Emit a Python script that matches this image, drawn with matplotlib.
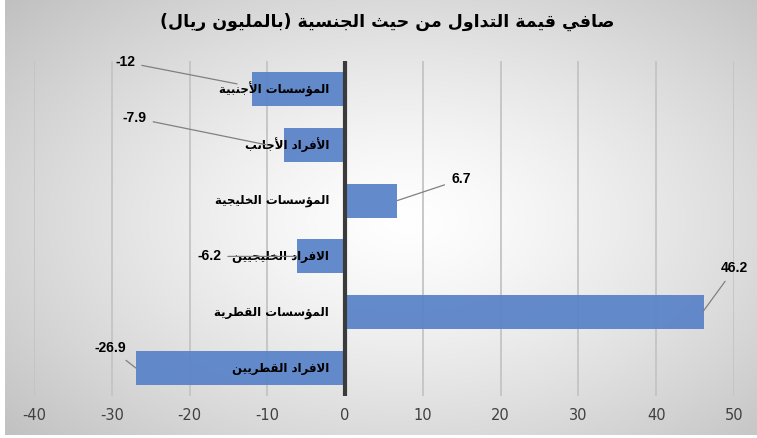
import numpy as np
import matplotlib
matplotlib.use('Agg')
import matplotlib.pyplot as plt

plt.rcParams['axes.unicode_minus'] = False

# ---- data ----
title = 'صافي قيمة التداول من حيث الجنسية (بالمليون ريال)'
categories = ['المؤسسات الأجنبية', 'الأفراد الأجانب', 'المؤسسات الخليجية',
              'الافراد الخليجيين', 'المؤسسات القطرية', 'الافراد القطريين']
values = [-12, -7.9, 6.7, -6.2, 46.2, -26.9]
value_labels = ['-12', '-7.9', '6.7', '-6.2', '46.2', '-26.9']
x_ticks = [-40, -30, -20, -10, 0, 10, 20, 30, 40, 50]

# label placement (offsets from the bar end, data units)
text_off = [(-16.3, -0.48), (-19.2, -0.48), (8.2, -0.38), (-11.3, 0.0), (3.9, -0.79), (-3.3, -0.36)]
line_off = [(-1.9, -0.09), (-2.25, 0.0), (0, 0), (0, 0), (-0.25, 0), (0, 0)]

# ---- minimal arabic shaping (matplotlib has no bidi / joining) ----
FORMS = {
    'ء': (0xFE80, 1), 'آ': (0xFE81, 2), 'أ': (0xFE83, 2), 'ؤ': (0xFE85, 2), 'إ': (0xFE87, 2),
    'ئ': (0xFE89, 4), 'ا': (0xFE8D, 2), 'ب': (0xFE8F, 4), 'ة': (0xFE93, 2), 'ت': (0xFE95, 4),
    'ث': (0xFE99, 4), 'ج': (0xFE9D, 4), 'ح': (0xFEA1, 4), 'خ': (0xFEA5, 4), 'د': (0xFEA9, 2),
    'ذ': (0xFEAB, 2), 'ر': (0xFEAD, 2), 'ز': (0xFEAF, 2), 'س': (0xFEB1, 4), 'ش': (0xFEB5, 4),
    'ص': (0xFEB9, 4), 'ض': (0xFEBD, 4), 'ط': (0xFEC1, 4), 'ظ': (0xFEC5, 4), 'ع': (0xFEC9, 4),
    'غ': (0xFECD, 4), 'ف': (0xFED1, 4), 'ق': (0xFED5, 4), 'ك': (0xFED9, 4), 'ل': (0xFEDD, 4),
    'م': (0xFEE1, 4), 'ن': (0xFEE5, 4), 'ه': (0xFEE9, 4), 'و': (0xFEED, 2), 'ى': (0xFEEF, 2),
    'ي': (0xFEF1, 4),
}
LAM_ALEF = {'آ': 0xFEF5, 'أ': 0xFEF7, 'إ': 0xFEF9, 'ا': 0xFEFB}
MIRROR = {'(': ')', ')': '('}


def shape(text):
    tokens = []
    i = 0
    while i < len(text):
        c = text[i]
        if c == 'ل' and i + 1 < len(text) and text[i + 1] in LAM_ALEF:
            tokens.append((LAM_ALEF[text[i + 1]], 2))
            i += 2
        elif c in FORMS:
            tokens.append(FORMS[c])
            i += 1
        else:
            tokens.append(c)
            i += 1
    out = []
    for k, t in enumerate(tokens):
        if isinstance(t, str):
            out.append(MIRROR.get(t, t))
            continue
        base, n = t
        prev = tokens[k - 1] if k > 0 else None
        nxt = tokens[k + 1] if k + 1 < len(tokens) else None
        join_prev = isinstance(prev, tuple) and prev[1] == 4 and n > 1
        join_next = n == 4 and isinstance(nxt, tuple)
        if join_prev and join_next:
            off = 3
        elif join_prev:
            off = 1
        elif join_next:
            off = 2
        else:
            off = 0
        out.append(chr(base + off))
    return ''.join(reversed(out))


# ---- figure ----
W, H = 757, 438
fig = plt.figure(figsize=(W / 100, H / 100), dpi=100)
fig.patch.set_facecolor('white')

# gradient background
bg = fig.add_axes([5 / W, 3 / H, 752 / W, 435 / H])
yy, xx = np.mgrid[0:435, 0:752]
u = (xx - 400) / 376.0
v = (yy - 220) / 230.0
r = np.sqrt(u ** 2 + v ** 2) / np.sqrt(2)
g = np.clip(255 - 62 * r ** 1.3, 0, 255) / 255.0
bg.imshow(np.dstack([g, g, g]), aspect='auto', interpolation='bilinear')
bg.axis('off')

ax = fig.add_axes([34 / W, 42 / H, 700 / W, 335 / H])
ax.patch.set_alpha(0)
y = np.arange(len(categories))
ax.barh(y, values, height=0.61, color='#5b84c9', alpha=0.95, zorder=2)
ax.set_xlim(-40, 50)
ax.set_ylim(len(categories) - 0.5, -0.5)
ax.set_xticks(x_ticks)
ax.set_yticks([])
ax.grid(axis='x', color='#c4c4c4', lw=1.3, zorder=1)
ax.set_axisbelow(True)
ax.axvline(0, color='#3b3b3b', lw=3, zorder=4)
for s in ax.spines.values():
    s.set_visible(False)
ax.tick_params(axis='x', length=0, pad=9, labelsize=10.5, labelcolor='#404040')
for lab in ax.get_xticklabels():
    lab.set_family(['Liberation Sans Narrow', 'DejaVu Sans'])

for i, cat in enumerate(categories):
    ax.text(-2.05, i, shape(cat), ha='right', va='center', fontsize=8.5,
            fontweight='bold', family='DejaVu Sans', zorder=5)

for i, (val, lbl) in enumerate(zip(values, value_labels)):
    tx, ty = text_off[i]
    lx, ly = line_off[i]
    ax.annotate(lbl, xy=(val + lx, i + ly), xytext=(val + tx, i + ty),
                ha='center', va='center', fontsize=10, fontweight='bold',
                family='Liberation Sans', annotation_clip=False, zorder=6,
                arrowprops=dict(arrowstyle='-', color='#808080', lw=0.9,
                                shrinkA=3, shrinkB=0))

fig.text(387 / W, 1 - 22 / H, shape(title), ha='center', va='center',
         fontsize=12.5, fontweight='bold', family='DejaVu Sans')

fig.savefig('out.png', dpi=100)
